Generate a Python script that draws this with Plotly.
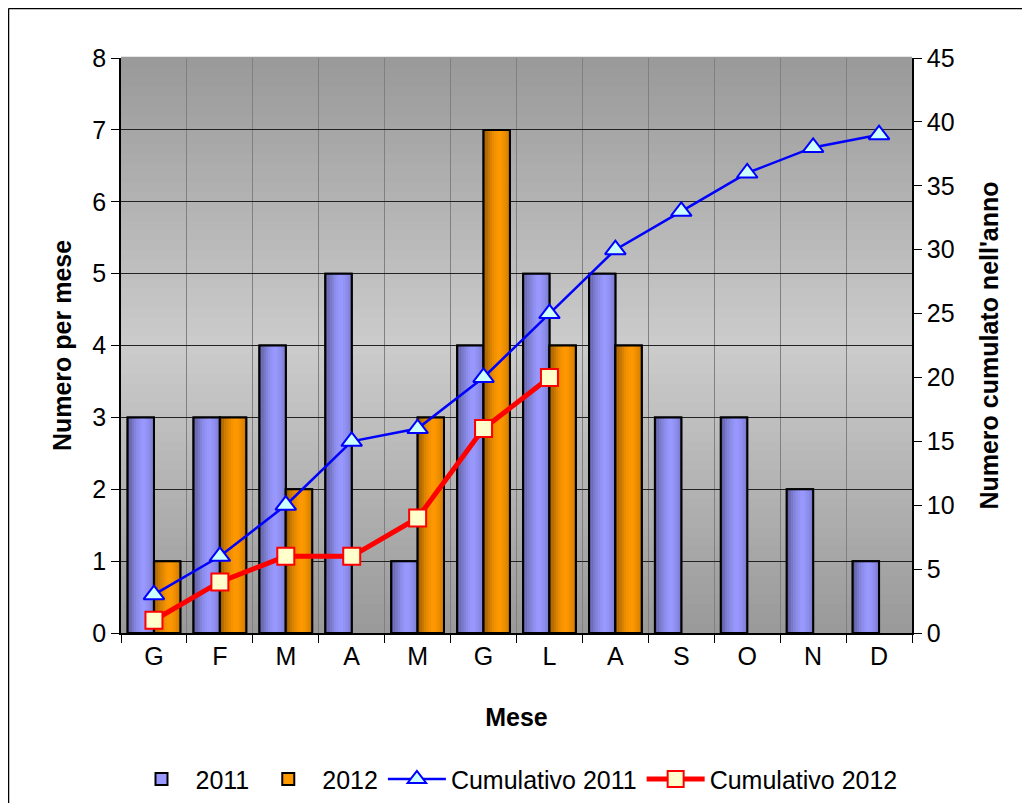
import plotly.graph_objects as go

months = ["G", "F", "M", "A", "M", "G", "L", "A", "S", "O", "N", "D"]
v2011 = [3, 3, 4, 5, 1, 4, 5, 5, 3, 3, 2, 1]
v2012 = [1, 3, 2, 0, 3, 7, 4, 4, None, None, None, None]
cum2011 = [3, 6, 10, 15, 16, 20, 25, 30, 33, 36, 38, 39]
cum2012 = [1, 4, 6, 6, 9, 16, 20]

xs = list(range(len(months)))
FONT = "Liberation Sans, Arial, sans-serif"
FS = 25

fig = go.Figure()

def shade(base, t):
    if t < 0.6:
        f = 1 - 0.42 * ((0.6 - t) / 0.6) ** 1.6
    else:
        f = 1 - 0.22 * ((t - 0.6) / 0.4) ** 1.6
    return "rgb(%d,%d,%d)" % tuple(int(c * f) for c in base)

def add_series(vals, name, base, offset, width=0.4, K=12):
    yv = [v if v else None for v in vals]
    solid = "rgb(%d,%d,%d)" % base
    fig.add_trace(go.Bar(x=xs, y=yv, name=name, offset=offset, width=width,
                         marker=dict(color=solid, line=dict(color="black", width=2))))
    for k in range(K):
        t = (k + 0.5) / K
        fig.add_trace(go.Bar(x=xs, y=yv, offset=offset + width * k / K, width=width / K + 0.002,
                             marker=dict(color=shade(base, t), line=dict(width=0)),
                             showlegend=False, hoverinfo="skip"))
    fig.add_trace(go.Bar(x=xs, y=yv, offset=offset, width=width, showlegend=False,
                         marker=dict(color="rgba(0,0,0,0)", line=dict(color="black", width=2)),
                         hoverinfo="skip"))

add_series(v2011, "2011", (153, 153, 255), -0.4)
add_series(v2012, "2012", (255, 153, 0), 0.0)

fig.add_trace(go.Scatter(x=xs, y=cum2011, name="Cumulativo 2011", yaxis="y2",
                         mode="lines+markers",
                         line=dict(color="#0000ff", width=2.5),
                         marker=dict(symbol="triangle-up", size=18, color="#ccffff",
                                     line=dict(color="#0000ff", width=2))))
fig.add_trace(go.Scatter(x=xs[:len(cum2012)], y=cum2012, name="Cumulativo 2012", yaxis="y2",
                         mode="lines+markers",
                         line=dict(color="#ff0000", width=5),
                         marker=dict(symbol="square", size=17, color="#ffffcc",
                                     line=dict(color="#ff0000", width=2))))

# vertical gradient background (dark top/bottom, light center)
shapes = []
N = 60
for i in range(N):
    t = (i + 0.5) / N
    d = abs(t - 0.5) * 2
    g = int(round(0xcc - (0xcc - 0x99) * d))
    col = f"rgb({g},{g},{g})"
    shapes.append(dict(type="rect", xref="x domain", yref="y domain",
                       x0=0, x1=1, y0=i / N, y1=(i + 1) / N + 0.002,
                       fillcolor=col, line=dict(width=0), layer="below"))

# figure size accounts for the 8px page margin of the html body
W, H = 1014, 795
L, T = 113, 50
R, B = W - 904, H - 625
pw, ph = W - L - R, H - T - B
def px(x): return (x - L) / pw
def py(y): return (H - B - y) / ph
# outer frame (left and top edges visible in the reference)
shapes.append(dict(type="line", xref="paper", yref="paper",
                   x0=px(0.5), x1=px(0.5), y0=py(0.5), y1=py(H + 20),
                   line=dict(color="black", width=1.5), layer="above"))
shapes.append(dict(type="line", xref="paper", yref="paper",
                   x0=px(0.5), x1=px(W + 20), y0=py(0.5), y1=py(0.5),
                   line=dict(color="black", width=1.5), layer="above"))
fig.update_layout(shapes=shapes)

fig.update_layout(
    width=W, height=H,
    margin=dict(l=L, r=R, t=T, b=B),
    paper_bgcolor="white", plot_bgcolor="#bbbbbb",
    font=dict(family=FONT, size=FS, color="black"),
    barmode="overlay",
    showlegend=True,
    legend=dict(orientation="h", xref="container", yref="container",
                x=0.5, xanchor="center", y=0.03, yanchor="middle",
                font=dict(size=FS), itemwidth=58, tracegroupgap=0),
    xaxis=dict(range=[-0.5, 11.5], tickmode="array", tickvals=xs, ticktext=months,
               showgrid=False, ticks="", showline=True, linecolor="black", linewidth=1.5,
               zeroline=False,
               minor=dict(tickmode="array", tickvals=[i - 0.5 for i in range(13)],
                          ticks="outside", ticklen=8, tickcolor="black",
                          showgrid=True, gridcolor="#808080", gridwidth=1),
               title=dict(text="<b>Mese</b>", standoff=40, font=dict(size=FS))),
    yaxis=dict(range=[0, 8], dtick=1, ticks="outside", ticklen=8, tickcolor="black",
               showline=True, linecolor="black", linewidth=1.5,
               showgrid=True, gridcolor="#222222", gridwidth=1, zeroline=False,
               title=dict(text="<b>Numero per mese</b>", standoff=14, font=dict(size=FS))),
    yaxis2=dict(range=[0, 45], dtick=5, overlaying="y", side="right",
                ticks="outside", ticklen=8, tickcolor="black",
                showline=True, linecolor="black", linewidth=1.5,
                showgrid=False, zeroline=False,
                title=dict(text="<b>Numero cumulato nell'anno</b>", standoff=27,
                           font=dict(size=FS))),
)

fig.write_html("out.html")
